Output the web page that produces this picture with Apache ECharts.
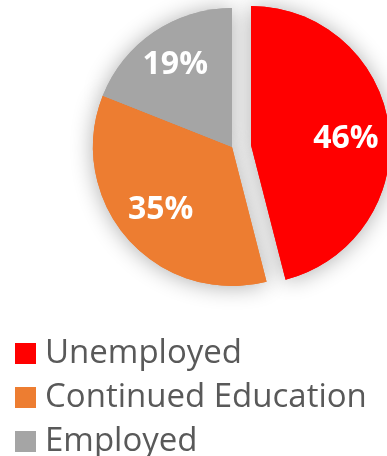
<!DOCTYPE html>
<html>
<head>
<meta charset="utf-8">
<script src="https://cdn.jsdelivr.net/npm/echarts@6/dist/echarts.min.js"></script>
<style>
  html, body { margin: 0; padding: 0; background: #ffffff; }
  #chart { width: 387px; height: 456px; }
</style>
</head>
<body>
<div id="chart"></div>
<script>
// Outcome categories and their shares (percent)
const categories = ['Unemployed', 'Continued Education', 'Employed'];
const shares = [46, 35, 19];
const sliceColors = ['#FF0000', '#ED7D31', '#A5A5A5'];

// Unemployed slice is pulled out of the pie
const explodedIndex = 0;

const FONT = '"Open Sans", "Noto Sans", sans-serif';
const R = 139;
const CENTER = [232, 147];
const CENTER_EXPLODED = [251, 145];

// Small nudges that push the inside labels out toward the rim
const labelNudge = {
  'Unemployed': [23, 3],
  'Continued Education': [-17, 15],
  'Employed': [-16, -22]
};

function sliceData(showIdx) {
  return categories.map((name, i) => {
    const on = showIdx(i);
    return {
      name: name,
      value: shares[i],
      itemStyle: { color: on ? sliceColors[i] : 'rgba(0,0,0,0)' },
      label: { show: on }
    };
  });
}

function pieSeries(id, center, showIdx, withShadow, withLabels) {
  return {
    type: 'pie',
    id: id,
    center: center,
    radius: R,
    startAngle: 90,
    clockwise: true,
    silent: true,
    animation: false,
    z: withShadow ? 1 : 2,
    itemStyle: withShadow
      ? { borderWidth: 0, shadowBlur: 22, shadowColor: 'rgba(0,0,0,0.32)', shadowOffsetY: 1 }
      : { borderWidth: 0 },
    label: withLabels ? {
      show: true,
      position: 'inside',
      formatter: '{c}%',
      color: '#ffffff',
      fontFamily: FONT,
      fontWeight: 'bold',
      fontSize: 32
    } : { show: false },
    labelLine: { show: false },
    labelLayout: withLabels ? function (p) {
      const d = labelNudge[categories[p.dataIndex]] || [0, 0];
      return { dx: d[0], dy: d[1] };
    } : undefined,
    data: sliceData(showIdx).map(d => withLabels ? d : Object.assign({}, d, { label: { show: false } }))
  };
}

const notExploded = i => i !== explodedIndex;
const isExploded = i => i === explodedIndex;

const chart = echarts.init(document.getElementById('chart'), null, { renderer: 'canvas' });

chart.setOption({
  backgroundColor: '#ffffff',
  animation: false,
  legend: {
    orient: 'vertical',
    left: 15,
    top: 337,
    height: 160,
    padding: 0,
    icon: 'rect',
    itemWidth: 21,
    itemHeight: 21,
    itemGap: 11,
    selectedMode: false,
    textStyle: {
      color: '#595959',
      fontFamily: FONT,
      fontSize: 33,
      padding: [0, 0, 0, 4]
    },
    data: categories.map((name, i) => ({ name: name, itemStyle: { color: sliceColors[i] } }))
  },
  series: [
    // shadow layer underneath
    pieSeries('mainShadow', CENTER, notExploded, true, false),
    pieSeries('explodedShadow', CENTER_EXPLODED, isExploded, true, false),
    // clean slices on top
    pieSeries('main', CENTER, notExploded, false, true),
    pieSeries('exploded', CENTER_EXPLODED, isExploded, false, true)
  ]
});
</script>
</body>
</html>
